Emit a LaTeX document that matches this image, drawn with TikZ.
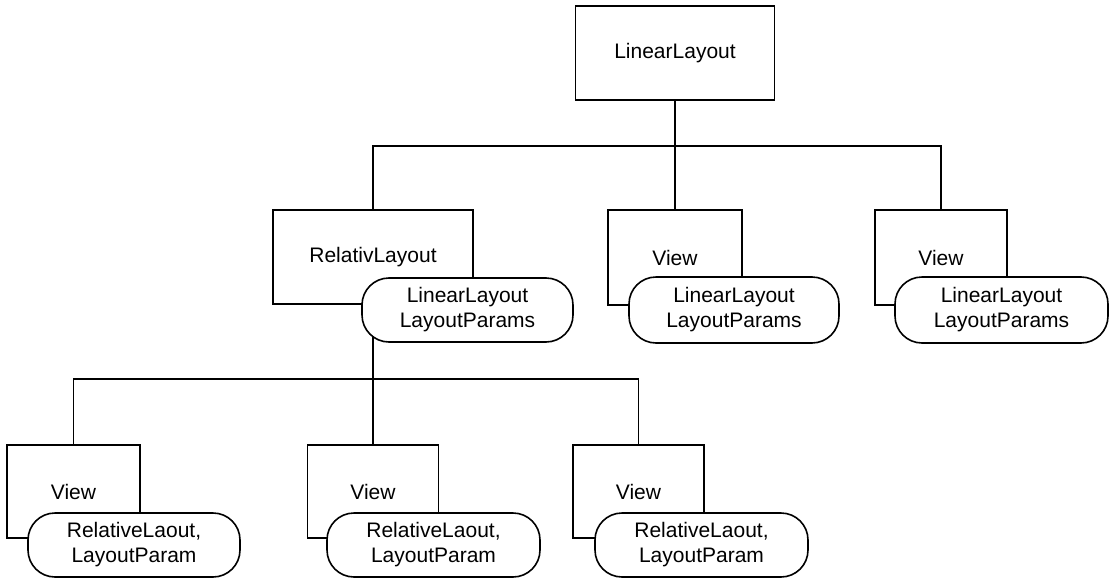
\documentclass[tikz,border=0pt]{standalone}
\usepackage{fontspec}
\setmainfont{Liberation Sans}
\begin{document}
\begin{tikzpicture}[x=1pt,y=-1pt,
  every node/.style={font=\fontsize{21}{25}\selectfont, inner sep=0pt},
  box/.style={draw, line width=1.6pt, fill=white, minimum height=94pt},
  pill/.style={draw, line width=1.6pt, fill=white, rounded corners=27pt, minimum height=64pt, align=center},
  conn/.style={line width=1.6pt}]
\useasboundingbox (0,0) rectangle (1113,578);
\coordinate (bus1) at (675,146);
\coordinate (bus2) at (373,379);
% boxes
\node[box, minimum width=199pt] (LL) at (675,53) {LinearLayout};
\node[box, minimum width=200pt] (RL) at (373,257) {RelativLayout};
\node[box, minimum width=134pt, minimum height=95pt] (V2) at (675,257.5) {View};
\node[box, minimum width=132pt, minimum height=95pt] (V3) at (941,257.5) {View};
\node[box, minimum width=133pt, minimum height=93pt] (B1) at (73.5,491.5) {View};
\node[box, minimum width=131pt, minimum height=93pt] (B2) at (373,491.5) {View};
\node[box, minimum width=131pt, minimum height=93pt] (B3) at (638.5,491.5) {View};
% connectors
\draw[conn] (LL.south) -- (V2.north);
\draw[conn] (RL.north) |- (bus1) -| (V3.north);
\draw[conn] (RL.south) -- (B2.north);
\draw[conn] (B1.north) |- (bus2) -| (B3.north);
% pills
\node[pill, minimum width=211pt] (P1) at (467.5,310) {LinearLayout\\LayoutParams};
\node[pill, minimum width=210pt, minimum height=66pt] (P2) at (734,310) {LinearLayout\\LayoutParams};
\node[pill, minimum width=213pt, minimum height=66pt] (P3) at (1001.5,310) {LinearLayout\\LayoutParams};
\node[pill, minimum width=212pt] (Q1) at (134,545) {RelativeLaout,\\LayoutParam};
\node[pill, minimum width=213pt] (Q2) at (433.5,545) {RelativeLaout,\\LayoutParam};
\node[pill, minimum width=213pt] (Q3) at (701.5,545) {RelativeLaout,\\LayoutParam};
\end{tikzpicture}
\end{document}
